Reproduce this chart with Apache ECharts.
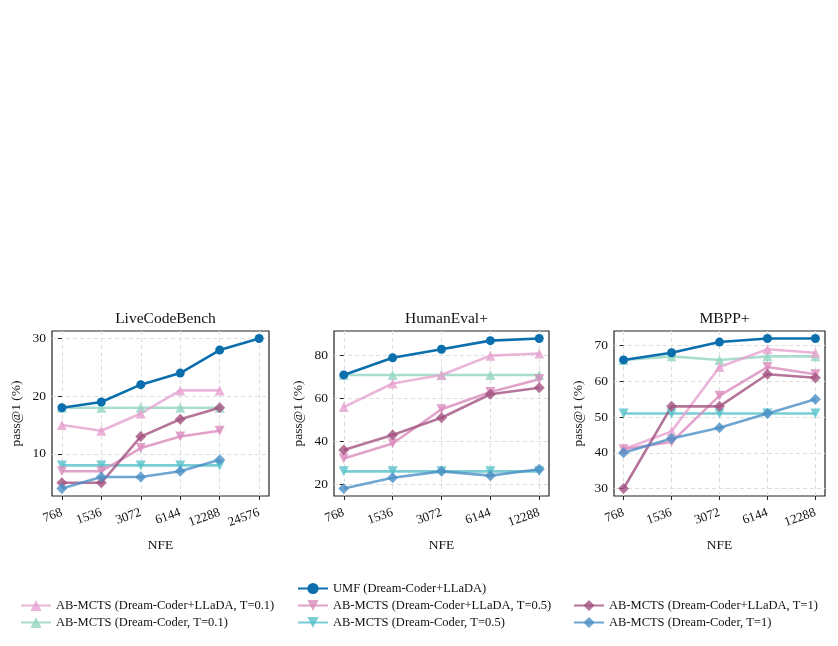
<!DOCTYPE html>
<html>
<head>
<meta charset="utf-8">
<script src="https://cdn.jsdelivr.net/npm/echarts@6/dist/echarts.min.js"></script>
<style>
  html, body { margin: 0; padding: 0; background: #fff; }
  #mydiv { width: 838px; height: 646px; }
</style>
</head>
<body>
<div id="mydiv"></div>
<script>
// 横轴 NFE
var nfeLong = [768, 1536, 3072, 6144, 12288, 24576];
var nfeShort = [768, 1536, 3072, 6144, 12288];

// 方法名
var names = [
    'UMF (Dream-Coder+LLaDA)',
    'AB-MCTS (Dream-Coder+LLaDA, T=0.1)',
    'AB-MCTS (Dream-Coder, T=0.1)',
    'AB-MCTS (Dream-Coder+LLaDA, T=0.5)',
    'AB-MCTS (Dream-Coder, T=0.5)',
    'AB-MCTS (Dream-Coder+LLaDA, T=1)',
    'AB-MCTS (Dream-Coder, T=1)'
];

// LiveCodeBench
var lcbUMF = [18, 19, 22, 24, 28, 30];
var lcbMixT01 = [15, 14, 17, 21, 21];
var lcbDcT01 = [18, 18, 18, 18, 18];
var lcbMixT05 = [7, 7, 11, 13, 14];
var lcbDcT05 = [8, 8, 8, 8, 8];
var lcbMixT1 = [5, 5, 13, 16, 18];
var lcbDcT1 = [4, 6, 6, 7, 9];

// HumanEval+
var heUMF = [71, 79, 83, 87, 88];
var heMixT01 = [56, 67, 71, 80, 81];
var heDcT01 = [71, 71, 71, 71, 71];
var heMixT05 = [32, 39, 55, 63, 69];
var heDcT05 = [26, 26, 26, 26, 26];
var heMixT1 = [36, 43, 51, 62, 65];
var heDcT1 = [18, 23, 26, 24, 27];

// MBPP+
var mbUMF = [66, 68, 71, 72, 72];
var mbMixT01 = [41, 46, 64, 69, 68];
var mbDcT01 = [66, 67, 66, 67, 67];
var mbMixT05 = [41, 43, 56, 64, 62];
var mbDcT05 = [51, 51, 51, 51, 51];
var mbMixT1 = [30, 53, 53, 62, 61];
var mbDcT1 = [40, 44, 47, 51, 55];

// y 轴刻度
var lcbTicks = [10, 20, 30];
var heTicks = [20, 40, 60, 80];
var mbTicks = [30, 40, 50, 60, 70];

var colors = ['#0b6fae', '#e6a3cf', '#93d6c3', '#d98bbd', '#56c2c9', '#a3517f', '#4b8ec6'];
var symbols = ['circle', 'triangle', 'triangle', 'path://M0,0 L10,0 L5,9 Z', 'path://M0,0 L10,0 L5,9 Z', 'diamond', 'diamond'];
var sizes = [9, 10, 10, 10, 10, 11, 11];

var FONT = 'Liberation Serif';

var echart = echarts.init(document.getElementById('mydiv'));

// 三个子图
var panels = [
    { title: 'LiveCodeBench', left: 52, width: 217, nfe: nfeLong, ymin: 2.7, ymax: 31.3, ticks: lcbTicks,
      data: [lcbUMF, lcbMixT01, lcbDcT01, lcbMixT05, lcbDcT05, lcbMixT1, lcbDcT1] },
    { title: 'HumanEval+', left: 334, width: 215, nfe: nfeShort, ymin: 14.5, ymax: 91.5, ticks: heTicks,
      data: [heUMF, heMixT01, heDcT01, heMixT05, heDcT05, heMixT1, heDcT1] },
    { title: 'MBPP+', left: 614, width: 211, nfe: nfeShort, ymin: 27.9, ymax: 74.1, ticks: mbTicks,
      data: [mbUMF, mbMixT01, mbDcT01, mbMixT05, mbDcT05, mbMixT1, mbDcT1] }
];

var grids = [], xAxes = [], yAxes = [], titles = [], series = [];

panels.forEach(function (p, i) {
    var n = p.nfe.length;
    var pad = 0.05 * (n - 1);
    var idx = p.nfe.map(function (v, k) { return k; });

    grids.push({
        left: p.left, width: p.width, top: 331, height: 165,
        show: true, borderColor: '#222', borderWidth: 1.2, backgroundColor: 'transparent'
    });
    titles.push({
        text: p.title, left: p.left + p.width / 2, top: 306, textAlign: 'center',
        textStyle: { fontFamily: FONT, fontSize: 15.5, fontWeight: 'normal', color: '#111' }
    });
    xAxes.push({
        type: 'value', gridIndex: i, min: -pad, max: n - 1 + pad,
        name: 'NFE', nameLocation: 'middle', nameGap: 42,
        nameTextStyle: { fontFamily: FONT, fontSize: 13.5, color: '#111' },
        axisLine: { show: false },
        axisTick: { show: true, length: 4, customValues: idx, lineStyle: { color: '#222' } },
        axisLabel: {
            customValues: idx, rotate: 20, margin: 16,
            fontFamily: FONT, fontSize: 13, color: '#111',
            formatter: function (v) { return String(p.nfe[Math.round(v)]); }
        },
        splitLine: { show: true, customValues: idx, lineStyle: { color: '#dedede', type: [4, 3], width: 1 } }
    });
    yAxes.push({
        type: 'value', gridIndex: i, min: p.ymin, max: p.ymax,
        name: 'pass@1 (%)', nameLocation: 'middle', nameGap: 29,
        nameTextStyle: { fontFamily: FONT, fontSize: 13.5, color: '#111' },
        axisLine: { show: false },
        axisTick: { show: true, length: 4, customValues: p.ticks, lineStyle: { color: '#222' } },
        axisLabel: { customValues: p.ticks, margin: 6, fontFamily: FONT, fontSize: 13.5, color: '#111' },
        splitLine: { show: true, customValues: p.ticks, lineStyle: { color: '#dedede', type: [4, 3], width: 1 } }
    });

    // 先画浅色的，再画 UMF 在最上层
    var order = [2, 4, 1, 3, 5, 6, 0];
    order.forEach(function (s) {
        var vals = p.data[s];
        series.push({
            name: names[s], type: 'line', xAxisIndex: i, yAxisIndex: i,
            data: vals.map(function (v, k) { return [k, v]; }),
            symbol: symbols[s], symbolSize: sizes[s],
            lineStyle: { width: 2.6, color: colors[s], opacity: s === 0 ? 1 : 0.8 },
            itemStyle: { color: colors[s], opacity: s === 0 ? 1 : 0.8 },
            z: s === 0 ? 10 : 2,
            animation: false
        });
    });
});

var legendText = { fontFamily: FONT, fontSize: 12.5, color: '#111' };
var legendBase = { orient: 'vertical', itemWidth: 30, itemHeight: 14, itemGap: 4, textStyle: legendText, padding: 0 };

var option = {
    backgroundColor: '#fff',
    title: titles,
    grid: grids,
    xAxis: xAxes,
    yAxis: yAxes,
    legend: [
        Object.assign({}, legendBase, { left: 297, top: 582, data: [names[0]] }),
        Object.assign({}, legendBase, { left: 20, top: 599, data: [names[1], names[2]] }),
        Object.assign({}, legendBase, { left: 297, top: 599, data: [names[3], names[4]] }),
        Object.assign({}, legendBase, { left: 573, top: 599, data: [names[5], names[6]] })
    ],
    series: series
};

echart.setOption(option);
</script>
</body>
</html>
